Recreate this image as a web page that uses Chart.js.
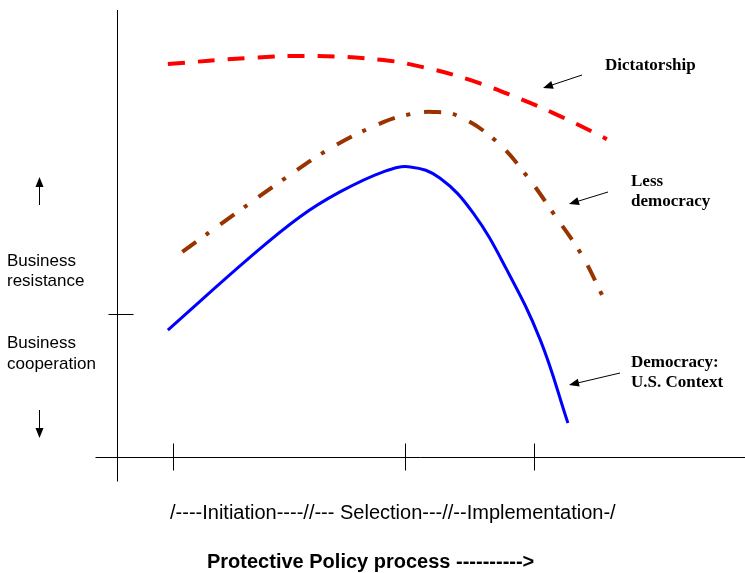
<!DOCTYPE html>
<html>
<head>
<meta charset="utf-8">
<script src="https://cdn.jsdelivr.net/npm/chart.js@4.4.0/dist/chart.umd.min.js"></script>
<style>
  html, body { margin: 0; padding: 0; background: #fff; }
  #wrap { width: 745px; height: 573px; }
</style>
</head>
<body>
<div id="wrap"><canvas id="chart" width="745" height="573"></canvas></div>
<script>
// x: position along the policy process (0 = vertical axis, 100 = right edge)
// y: business resistance (0 = horizontal axis, 100 = top)
const democracyX = [8.1, 21.2, 29.1, 35.5, 42.4, 46.7, 51.4, 56.7, 62.1, 67.4, 71.8];
const democracyY = [28.4, 44.7, 53.7, 59.3, 63.8, 64.9, 62.4, 54.6, 41.8, 26.2, 7.6];

const lessDemX = [10.4, 18.5, 26.4, 34.4, 42.4, 46.7, 50.3, 54.3, 60.5, 65.4, 69.7, 74.0, 77.4];
const lessDemY = [45.9, 54.1, 62.0, 69.4, 74.9, 76.7, 77.2, 76.3, 70.5, 62.6, 54.1, 45.2, 35.8];

const dictatorX = [8.1, 21.2, 31.8, 42.4, 47.8, 55.7, 64.6, 69.4, 75.8, 78.0];
const dictatorY = [87.9, 89.3, 89.7, 88.8, 87.5, 84.6, 79.9, 77.0, 72.7, 71.1];

const stageTicks = [8.9, 45.9, 66.4];   // initiation / selection / implementation marks
const midTick = 32.0;                   // resistance vs cooperation divider

const stageLabel = "/----Initiation----//--- Selection---//--Implementation-/";
const axisTitle = "Protective Policy process ---------->";

function pts(xs, ys) {
  return xs.map((x, i) => ({ x: x, y: ys[i] }));
}

function arrow(ctx, x1, y1, x2, y2) {
  let a = Math.atan2(y2 - y1, x2 - x1);
  let len = 10, w = 4;
  ctx.beginPath();
  ctx.moveTo(x1, y1);
  ctx.lineTo(x2 - Math.cos(a) * len * 0.8, y2 - Math.sin(a) * len * 0.8);
  ctx.stroke();
  ctx.beginPath();
  ctx.moveTo(x2, y2);
  ctx.lineTo(x2 - Math.cos(a) * len - Math.sin(a) * w, y2 - Math.sin(a) * len + Math.cos(a) * w);
  ctx.lineTo(x2 - Math.cos(a) * len + Math.sin(a) * w, y2 - Math.sin(a) * len - Math.cos(a) * w);
  ctx.closePath();
  ctx.fill();
}

const diagram = {
  id: 'diagram',
  beforeDatasetsDraw(chart) {
    let ctx = chart.ctx;
    let xs = chart.scales.x, ys = chart.scales.y;
    let ox = Math.round(xs.getPixelForValue(0)) + 0.5;
    let oy = Math.round(ys.getPixelForValue(0)) + 0.5;
    ctx.save();
    ctx.strokeStyle = '#000';
    ctx.lineWidth = 1;
    ctx.beginPath();
    ctx.moveTo(ox, chart.chartArea.top);
    ctx.lineTo(ox, oy + 24);
    ctx.moveTo(ox - 22, oy);
    ctx.lineTo(chart.width, oy);
    stageTicks.forEach(t => {
      let px = Math.round(xs.getPixelForValue(t)) + 0.5;
      ctx.moveTo(px, oy - 14);
      ctx.lineTo(px, oy + 13);
    });
    let my = Math.round(ys.getPixelForValue(midTick)) + 0.5;
    ctx.moveTo(ox - 9, my);
    ctx.lineTo(ox + 16, my);
    ctx.stroke();
    ctx.restore();
  },
  afterDatasetsDraw(chart) {
    let ctx = chart.ctx;
    ctx.save();
    ctx.fillStyle = '#000';
    ctx.strokeStyle = '#000';
    ctx.lineWidth = 1;
    ctx.textBaseline = 'middle';
    ctx.textAlign = 'left';

    // left side labels
    ctx.font = '17px "Liberation Sans", Arial, sans-serif';
    ctx.fillText('Business', 7, 261);
    ctx.fillText('resistance', 7, 281);
    ctx.fillText('Business', 7, 343);
    ctx.fillText('cooperation', 7, 364);
    arrow(ctx, 39.5, 205, 39.5, 177);
    arrow(ctx, 39.5, 410, 39.5, 438);

    // curve labels
    ctx.font = 'bold 17px "Liberation Serif", "Times New Roman", serif';
    ctx.fillText('Dictatorship', 605, 66);
    ctx.fillText('Less', 631, 182);
    ctx.fillText('democracy', 631, 202);
    ctx.fillText('Democracy:', 631, 363);
    ctx.fillText('U.S. Context', 631, 383);
    arrow(ctx, 582, 75, 543, 88);
    arrow(ctx, 608, 192, 569, 204);
    arrow(ctx, 620, 373, 569, 385);

    // bottom labels
    ctx.font = '20px "Liberation Sans", Arial, sans-serif';
    ctx.fillText(stageLabel, 170, 513);
    ctx.font = 'bold 20px "Liberation Sans", Arial, sans-serif';
    ctx.fillText(axisTitle, 207, 562);
    ctx.restore();
  }
};

new Chart(document.getElementById('chart'), {
  type: 'line',
  data: {
    datasets: [
      {
        label: 'Dictatorship',
        data: pts(dictatorX, dictatorY),
        borderColor: '#ff0000',
        borderWidth: 4,
        borderDash: [17, 13],
        borderCapStyle: 'butt',
        tension: 0.4
      },
      {
        label: 'Less democracy',
        data: pts(lessDemX, lessDemY),
        borderColor: '#993300',
        borderWidth: 4,
        borderDash: [17, 12, 4, 14],
        borderCapStyle: 'butt',
        tension: 0.4
      },
      {
        label: 'Democracy: U.S. Context',
        data: pts(democracyX, democracyY),
        borderColor: '#0000ff',
        borderWidth: 3,
        tension: 0.4
      }
    ]
  },
  options: {
    responsive: false,
    animation: false,
    layout: { padding: { left: 117, right: 0, top: 10, bottom: 116 } },
    plugins: {
      legend: { display: false },
      tooltip: { enabled: false }
    },
    elements: { point: { radius: 0 } },
    scales: {
      x: { type: 'linear', min: 0, max: 100, display: false },
      y: { type: 'linear', min: 0, max: 100, display: false }
    }
  },
  plugins: [diagram]
});
</script>
</body>
</html>
